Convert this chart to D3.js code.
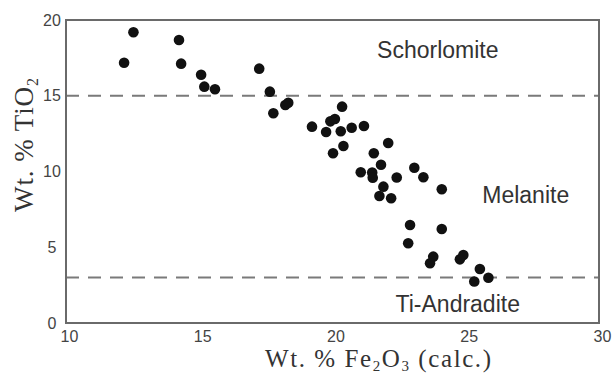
<!DOCTYPE html>
<html>
<head>
<meta charset="utf-8">
<script src="https://cdn.jsdelivr.net/npm/d3@7"></script>
<style>
  html, body { margin: 0; padding: 0; background: #fff; }
  svg { display: block; }
</style>
</head>
<body>
<svg id="chart" width="615" height="374"></svg>
<script>
// Fe2O3 (calc.) wt.% and TiO2 wt.% for each garnet analysis
const fe2o3 = [12.53, 12.18, 14.24, 14.32, 15.07, 15.19, 15.59, 17.25, 17.65, 18.23,
  18.34, 17.78, 20.36, 19.23, 19.92, 20.09, 19.76, 20.31, 20.72, 21.18,
  20.41, 20.02, 22.09, 21.55, 21.82, 21.06, 21.49, 21.51, 22.41, 23.07,
  23.41, 21.91, 21.76, 22.20, 24.10, 22.91, 24.10, 22.84, 23.78, 23.66,
  24.91, 24.78, 25.53, 25.32, 25.85];
const tio2 = [19.19, 17.18, 18.68, 17.12, 16.39, 15.60, 15.43, 16.79, 15.27, 14.39,
  14.54, 13.84, 14.28, 12.96, 13.31, 13.47, 12.61, 12.66, 12.89, 13.00,
  11.68, 11.20, 11.88, 11.20, 10.45, 9.95, 9.93, 9.59, 9.60, 10.25,
  9.62, 9.00, 8.38, 8.23, 8.83, 6.47, 6.20, 5.26, 4.38, 3.94,
  4.49, 4.20, 3.56, 2.74, 2.99];
const xTicks = [10, 15, 20, 25, 30];
const yTicks = [0, 5, 10, 15, 20];
const boundaries = [15, 3];
const fieldNames = ["Schorlomite", "Melanite", "Ti-Andradite"];
const fieldAnchors = [[23.95, 17.5], [27.25, 7.95], [24.7, 0.73]]; // [Fe2O3, TiO2] text baseline centres

const svg = d3.select("#chart");
const x = d3.scaleLinear().domain([10, 30]).range([66, 599]);
const y = d3.scaleLinear().domain([0, 20]).range([323, 20]);

// dashed field boundaries
svg.append("g").selectAll("line").data(boundaries).join("line")
  .attr("x1", x(10)).attr("x2", x(30))
  .attr("y1", d => y(d)).attr("y2", d => y(d))
  .attr("stroke", "#7a7a7a").attr("stroke-width", 2)
  .attr("stroke-dasharray", "13,9");

// frame
svg.append("rect")
  .attr("x", x(10)).attr("y", y(20))
  .attr("width", x(30) - x(10)).attr("height", y(0) - y(20))
  .attr("fill", "none").attr("stroke", "#6a6a6a").attr("stroke-width", 2);

// x axis labels
const xAxis = d3.axisBottom(x).tickValues(xTicks).tickSize(0).tickPadding(8);
const gx = svg.append("g").attr("transform", `translate(0,${y(0)})`).call(xAxis);
gx.select(".domain").remove();
gx.selectAll("text").attr("font-family", "Liberation Sans, Arial, sans-serif")
  .attr("font-size", 16).attr("fill", "#444").attr("dx", 3);

// y axis labels (centred)
const yAxis = d3.axisLeft(y).tickValues(yTicks).tickSize(0).tickPadding(14);
const gy = svg.append("g").attr("transform", `translate(${x(10)},0)`).call(yAxis);
gy.select(".domain").remove();
gy.selectAll("text").attr("font-family", "Liberation Sans, Arial, sans-serif")
  .attr("font-size", 16).attr("fill", "#444").attr("text-anchor", "middle").attr("x", -14);

// points
svg.append("g").selectAll("circle").data(fe2o3).join("circle")
  .attr("cx", d => x(d)).attr("cy", (d, i) => y(tio2[i]))
  .attr("r", 5.3).attr("fill", "#111");

// field labels
svg.append("g").selectAll("text").data(fieldNames).join("text")
  .attr("x", (d, i) => x(fieldAnchors[i][0])).attr("y", (d, i) => y(fieldAnchors[i][1]))
  .attr("text-anchor", "middle")
  .attr("font-family", "Liberation Sans, Arial, sans-serif")
  .attr("font-size", 23).attr("fill", "#333").text(d => d);

// axis titles
const xt = svg.append("text").attr("x", 378).attr("y", 367).attr("text-anchor", "middle")
  .attr("font-family", "Liberation Serif, Times New Roman, serif").attr("font-size", 25).attr("fill", "#333")
  .attr("textLength", 226).attr("lengthAdjust", "spacing");
xt.append("tspan").text("Wt. % Fe");
xt.append("tspan").attr("font-size", 15).attr("dy", 4).text("2");
xt.append("tspan").attr("dy", -4).text("O");
xt.append("tspan").attr("font-size", 15).attr("dy", 4).text("3");
xt.append("tspan").attr("dy", -4).text(" (calc.)");

const yt = svg.append("text").attr("transform", "translate(33,145) rotate(-90)").attr("text-anchor", "middle")
  .attr("font-family", "Liberation Serif, Times New Roman, serif").attr("font-size", 27).attr("fill", "#333")
  .attr("textLength", 134).attr("lengthAdjust", "spacing");
yt.append("tspan").text("Wt. % TiO");
yt.append("tspan").attr("font-size", 16).attr("dy", 5).text("2");
</script>
</body>
</html>
